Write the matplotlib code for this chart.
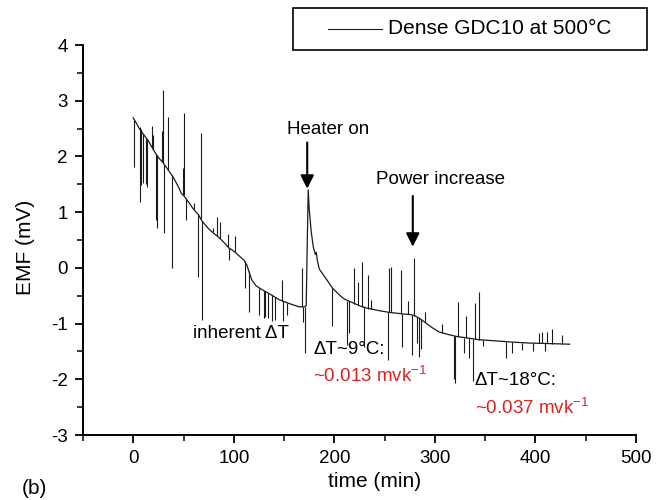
import matplotlib.pyplot as plt
from matplotlib.patches import Rectangle
from matplotlib.lines import Line2D
from matplotlib.ticker import MultipleLocator

plt.rcParams['font.family'] = ['Liberation Sans', 'DejaVu Sans']
plt.rcParams['mathtext.fontset'] = 'custom'
plt.rcParams['mathtext.rm'] = 'Liberation Sans'
plt.rcParams['axes.unicode_minus'] = False

# smooth part of the EMF trace (time in min, EMF in mV)
base_time = [0, 3, 6, 10, 15, 20, 25, 30, 35, 40, 45, 48, 50, 55, 60, 65, 68,
             75, 80, 85, 90, 95, 100, 105, 110, 113, 116, 118, 122, 128, 135,
             145, 155, 165, 170, 172, 173, 174, 175, 177, 179, 181, 182, 183,
             185, 190, 195, 198, 203, 207, 210, 215, 220, 225, 232, 245, 255,
             265, 276, 280, 285, 291, 297, 304, 312, 321, 333, 344, 360, 375,
             394, 415, 434]
base_emf = [2.69, 2.60, 2.50, 2.40, 2.28, 2.12, 1.98, 1.88, 1.75, 1.62, 1.45,
            1.33, 1.30, 1.18, 1.05, 0.95, 0.85, 0.70, 0.62, 0.55, 0.46, 0.36,
            0.30, 0.22, 0.14, 0.05, -0.12, -0.22, -0.32, -0.39, -0.46, -0.57,
            -0.64, -0.70, -0.70, -0.68, 0.40, 1.40, 1.05, 0.65, 0.38, 0.24,
            0.28, 0.14, -0.02, -0.15, -0.28, -0.36, -0.45, -0.52, -0.56, -0.60,
            -0.64, -0.68, -0.72, -0.77, -0.80, -0.82, -0.84, -0.86, -0.91,
            -0.99, -1.07, -1.15, -1.19, -1.23, -1.26, -1.29, -1.31, -1.33,
            -1.35, -1.36, -1.37]

# spikes on the trace: time, EMF at the foot, EMF at the tip
spike_time = [1, 7, 8, 10, 13, 14, 19, 20, 23, 24, 29, 30, 31, 35, 39, 49, 50,
              52, 60, 64, 67, 68, 79, 83, 86, 94, 95, 101, 111, 115, 125, 130,
              131, 134, 138, 141, 148, 149, 153, 168, 169, 171,
              198, 213, 215, 220, 224, 227, 229, 233, 236, 253, 254, 256, 266,
              267, 273, 277, 279, 282, 284, 286, 290, 307,
              319, 320, 323, 329, 331, 334, 338, 340, 344, 348, 371, 377, 387,
              398, 404, 407, 409, 411, 416, 426]
spike_foot = [2.66, 2.52, 2.49, 2.40, 2.33, 2.30, 2.15, 2.12, 2.04, 2.01, 1.90,
              1.88, 1.85, 1.75, 1.64, 1.31, 1.30, 1.26, 1.05, 0.97, 0.88, 0.85,
              0.64, 0.58, 0.53, 0.38, 0.36, 0.28, 0.12, -0.06, -0.36, -0.41,
              -0.42, -0.45, -0.49, -0.53, -0.59, -0.60, -0.63, -0.70, -0.70,
              -0.70,
              -0.36, -0.59, -0.60, -0.64, -0.67, -0.70, -0.71, -0.73, -0.74,
              -0.80, -0.80, -0.80, -0.82, -0.82, -0.83, -0.85, -0.86, -0.89,
              -0.90, -0.92, -0.97, -1.17,
              -1.22, -1.23, -1.24, -1.25, -1.25, -1.26, -1.27, -1.28, -1.29,
              -1.29, -1.33, -1.33, -1.34, -1.35, -1.35, -1.35, -1.35, -1.35,
              -1.36, -1.36]
spike_tip = [1.81, 1.18, 1.49, 1.52, 1.50, 1.45, 2.55, 2.39, 0.86, 0.72, 2.45,
             3.20, 0.63, 2.71, 0.00, 1.80, 2.78, 0.86, 1.17, -0.16, 2.42, -0.93,
             0.72, 0.92, 0.83, 0.60, 0.15, 0.57, -0.36, -0.80, -0.84, -0.90,
             -0.88, -0.90, -0.95, -0.93, -0.22, -0.95, -0.85, 0.00, -0.97,
             -1.53,
             -1.05, -1.38, -1.17, 0.00, -0.25, 0.10, -1.42, -0.13, -0.58,
             -1.65, 0.00, 0.02, -0.04, -1.42, -0.60, -1.56, 0.18, -1.35, -1.60,
             -1.45, -0.80, -1.00,
             -2.00, -2.07, -0.61, -1.53, -0.86, -1.62, -2.03, -0.63, -0.43,
             -1.40, -1.62, -1.53, -1.47, -1.50, -1.17, -1.16, -1.50, -1.16,
             -1.10, -1.20]

fig = plt.figure(figsize=(6.65, 5.0), dpi=100)
ax = fig.add_axes([0.1248, 0.13, 0.8316, 0.78])

line_color = '#1a1a1a'
ax.plot(base_time, base_emf, color=line_color, lw=0.9)
ax.vlines(spike_time, spike_foot, spike_tip, color=line_color, lw=0.8)

ax.set_xlim(-50, 500)
ax.set_ylim(-3, 4)
ax.xaxis.set_major_locator(MultipleLocator(100))
ax.xaxis.set_minor_locator(MultipleLocator(50))
ax.yaxis.set_major_locator(MultipleLocator(1))
ax.yaxis.set_minor_locator(MultipleLocator(0.5))
ax.spines['top'].set_visible(False)
ax.spines['right'].set_visible(False)
for s in ['left', 'bottom']:
    ax.spines[s].set_linewidth(1.4)
ax.tick_params(which='major', length=6, width=1.3, labelsize=13.5, pad=5)
ax.tick_params(which='minor', length=4, width=1.1)

ax.set_xlabel('time (min)', fontsize=15)
ax.set_ylabel('EMF (mV)', fontsize=15)
ax.xaxis.set_label_coords(0.528, -0.094)
ax.yaxis.set_label_coords(-0.087, 0.482)

# annotations
arrow = dict(arrowstyle='-|>', color='k', lw=1.5, mutation_scale=20, shrinkA=0, shrinkB=0)
ax.annotate('', xy=(173, 1.42), xytext=(173, 2.25), arrowprops=arrow)
ax.annotate('', xy=(278, 0.38), xytext=(278, 1.29), arrowprops=arrow)
ax.text(194, 2.48, 'Heater on', fontsize=13.5, ha='center', va='center')
ax.text(306, 1.58, 'Power increase', fontsize=13.5, ha='center', va='center')
ax.text(59, -1.17, 'inherent \u0394T', fontsize=13.5, va='center')
ax.text(179, -1.47, '\u0394T~9\u00b0C:', fontsize=13.5, va='center')
ax.text(179, -1.94, '~0.013 mvk$^{-1}$', fontsize=13.5, va='center', color='#e0201c')
ax.text(339, -2.03, '\u0394T~18\u00b0C:', fontsize=13.5, va='center')
ax.text(340, -2.50, '~0.037 mvk$^{-1}$', fontsize=13.5, va='center', color='#e0201c')

# legend box drawn in figure coordinates
fig.add_artist(Rectangle((0.4406, 0.90), 0.5324, 0.084, transform=fig.transFigure,
                         fill=False, edgecolor='k', lw=1.2))
fig.add_artist(Line2D([0.493, 0.575], [0.942, 0.942], transform=fig.transFigure,
                      color=line_color, lw=0.8))
fig.text(0.583, 0.942, 'Dense GDC10 at 500\u00b0C', fontsize=15, va='center')

fig.text(0.033, 0.024, '(b)', fontsize=15, va='center')

fig.savefig('out.png', dpi=100)
